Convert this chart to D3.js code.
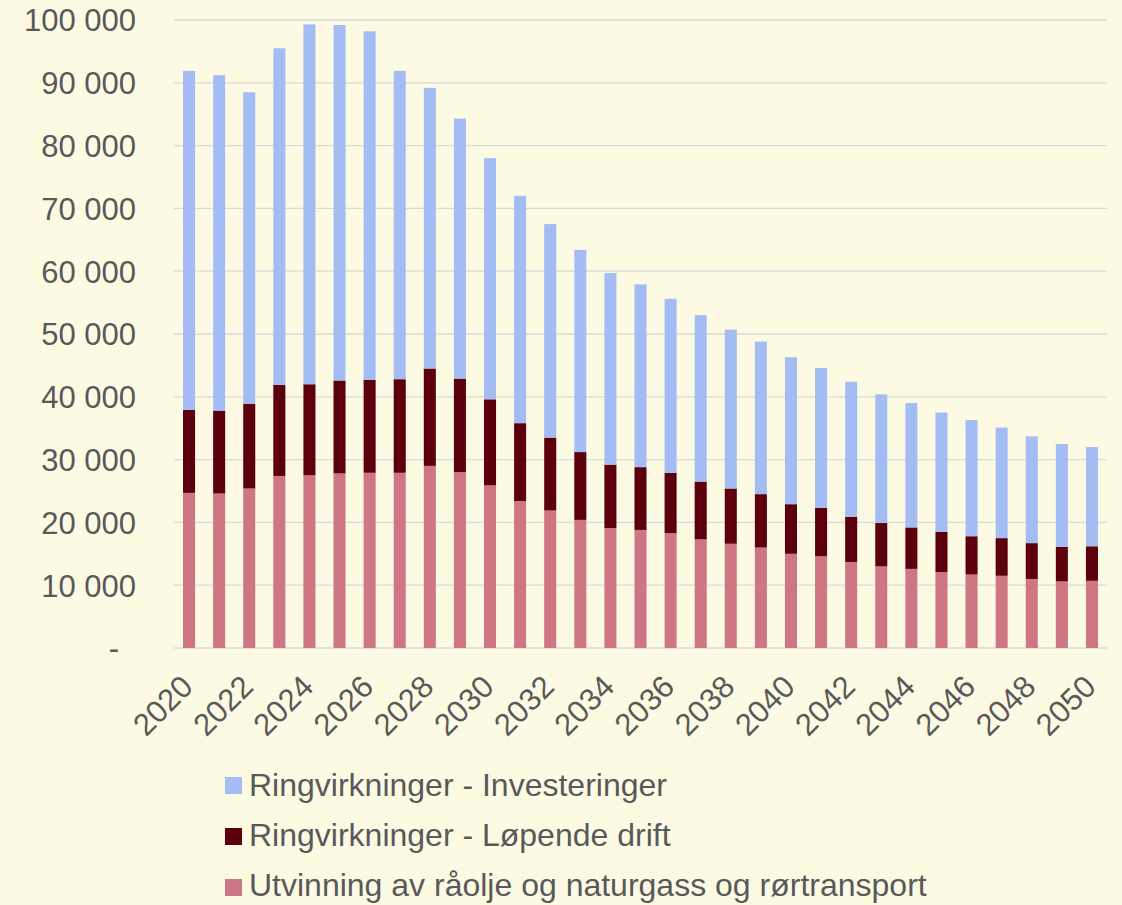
<!DOCTYPE html>
<html>
<head>
<meta charset="utf-8">
<script src="https://cdn.jsdelivr.net/npm/d3@7"></script>
<style>
  html, body { margin: 0; padding: 0; background: #fdfae4; }
  svg { display: block; font-family: "Liberation Sans", Arial, sans-serif; }
</style>
</head>
<body>
<div id="chart"></div>
<script>
// data (values in persons)
let years = d3.range(2020, 2051);
let utvinning = [24700, 24600, 25400, 27400, 27500, 27800, 27900, 27900, 29000, 28000,
    25900, 23400, 21900, 20400, 19100, 18800, 18300, 17300, 16600, 16000,
    15000, 14600, 13700, 13000, 12600, 12100, 11700, 11500, 11000, 10600, 10700];
let drift = [13200, 13200, 13500, 14500, 14500, 14800, 14800, 14900, 15500, 14900,
    13700, 12400, 11600, 10800, 10100, 10000, 9600, 9200, 8800, 8500,
    7900, 7700, 7200, 6900, 6600, 6400, 6100, 6000, 5700, 5500, 5500];
let investeringer = [54000, 53400, 49600, 53600, 57300, 56600, 55500, 49100, 44700, 41400,
    38400, 36200, 34000, 32200, 30500, 29100, 27700, 26500, 25300, 24300,
    23400, 22300, 21500, 20500, 19800, 19000, 18500, 17600, 17000, 16400, 15800];
let yTicks = [0, 10000, 20000, 30000, 40000, 50000, 60000, 70000, 80000, 90000, 100000];
let xTickYears = years.filter(function (y) { return y % 2 === 0; });

let seriesNames = [
    "Ringvirkninger - Investeringer",
    "Ringvirkninger - Løpende drift",
    "Utvinning av råolje og naturgass og rørtransport"
];
let seriesKeys = ["utvinning", "drift", "investeringer"];
let colors = { utvinning: "#cf7684", drift: "#5c000d", investeringer: "#a4bcf4" };

let table = years.map(function (y, i) {
    return { year: y, utvinning: utvinning[i], drift: drift[i], investeringer: investeringer[i] };
});

let W = 1122, H = 905;
let plot = { left: 174, right: 1107, top: 20, bottom: 648 };

let svg = d3.select('#chart').append('svg')
    .attr('width', W)
    .attr('height', H);

svg.append('rect').attr('width', W).attr('height', H).attr('fill', '#fdfae4');

let x = d3.scaleBand()
    .domain(years)
    .range([plot.left, plot.right])
    .paddingInner(0.6)
    .paddingOuter(0.3);

let y = d3.scaleLinear()
    .domain([0, 100000])
    .range([plot.bottom, plot.top]);

// gridlines
svg.append('g')
    .selectAll('line').data(yTicks)
    .enter().append('line')
    .attr('x1', plot.left).attr('x2', plot.right)
    .attr('y1', function (d) { return y(d); })
    .attr('y2', function (d) { return y(d); })
    .attr('stroke', '#d9d9d9')
    .attr('stroke-width', 1.3);

// y axis labels
let fmt = function (d) {
    return d === 0 ? "-" : d3.format(",")(d).replace(/,/g, " ");
};
let yAxis = d3.axisLeft(y).tickValues(yTicks).tickFormat(fmt).tickSize(0).tickPadding(0);
let yg = svg.append('g').attr('transform', 'translate(136,0)').call(yAxis);
yg.select('.domain').remove();
yg.selectAll('text')
    .attr('fill', '#595959')
    .attr('font-size', 31)
    .attr('font-family', '"Liberation Sans", Arial, sans-serif')
    .attr('x', function (d) { return d === 0 ? -17 : 0; })
    .attr('dy', '0.35em');

// stacked bars
let stack = d3.stack().keys(seriesKeys)(table);

svg.append('g')
    .selectAll('g').data(stack)
    .enter().append('g')
    .attr('fill', function (s) { return colors[s.key]; })
    .selectAll('rect').data(function (s) { return s; })
    .enter().append('rect')
    .attr('x', function (d) { return x(d.data.year); })
    .attr('width', x.bandwidth())
    .attr('y', function (d) { return y(d[1]); })
    .attr('height', function (d) { return y(d[0]) - y(d[1]); });

// x axis labels, rotated
svg.append('g')
    .selectAll('text').data(xTickYears)
    .enter().append('text')
    .attr('transform', function (d) {
        return 'translate(' + (x(d) + x.bandwidth() / 2 - 2) + ',681) rotate(-45)';
    })
    .attr('text-anchor', 'end')
    .attr('dy', '0.35em')
    .attr('fill', '#595959')
    .attr('font-size', 31)
    .text(function (d) { return d; });

// legend
let legendOrder = ["investeringer", "drift", "utvinning"];
let leg = svg.append('g')
    .selectAll('g').data(legendOrder)
    .enter().append('g')
    .attr('transform', function (d, i) { return 'translate(225,' + (796 + i * 50) + ')'; });

leg.append('rect')
    .attr('y', function (d, i) { return -19 + i; })
    .attr('width', 17).attr('height', 17)
    .attr('fill', function (d) { return colors[d]; });

leg.append('text')
    .attr('x', 24)
    .attr('y', 0)
    .attr('fill', '#595959')
    .attr('font-size', 32)
    .text(function (d, i) { return seriesNames[i]; });
</script>
</body>
</html>
